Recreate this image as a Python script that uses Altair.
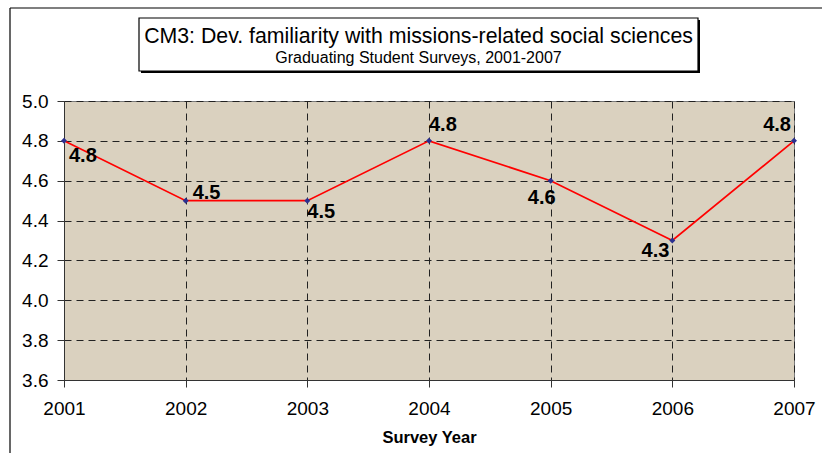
import altair as alt
import pandas as pd

# Survey results by graduating year
years = [2001, 2002, 2003, 2004, 2005, 2006, 2007]
scores = [4.8, 4.5, 4.5, 4.8, 4.6, 4.3, 4.8]
y_ticks = [3.6, 3.8, 4.0, 4.2, 4.4, 4.6, 4.8, 5.0]

title_text = "CM3: Dev. familiarity with missions-related social sciences"
subtitle_text = "Graduating Student Surveys, 2001-2007"
x_title = "Survey Year"

FONT = "Liberation Sans"

df = pd.DataFrame({"year": years, "score": scores})
one = alt.Data(values=[{}])

x_enc = alt.X(
    "year:Q",
    scale=alt.Scale(domain=[2001, 2007], nice=False, zero=False),
    axis=alt.Axis(
        values=years, format="d", title=x_title, titleFontWeight="bold",
        titleFontSize=16.5, titlePadding=11, labelFontSize=19, labelPadding=12,
        labelOverlap=False, labelFlush=False, tickSize=7, grid=True,
        gridDash=[7, 5], gridColor="#222222", domainColor="#333333",
        tickColor="#333333", labelColor="#000000", titleColor="#000000",
        labelFont=FONT, titleFont=FONT,
    ),
)
y_enc = alt.Y(
    "score:Q",
    scale=alt.Scale(domain=[3.6, 5.0], nice=False, zero=False),
    axis=alt.Axis(
        values=y_ticks, format=".1f", title=None, labelFontSize=19,
        labelPadding=9, labelOverlap=False, labelFlush=False, tickSize=7,
        grid=True, gridDash=[7, 5], gridColor="#222222",
        domainColor="#333333", tickColor="#333333", labelColor="#000000",
        labelFont=FONT,
    ),
)

base = alt.Chart(df)

line = base.mark_line(color="#ff0000", strokeWidth=1.7).encode(x=x_enc, y=y_enc)
points = base.mark_point(
    shape="diamond", filled=True, size=36, color="#2b2f8f", opacity=1
).encode(x=x_enc, y=y_enc)

# value labels, each placed beside its point
label_style = {
    2001: dict(align="left", dx=5, dy=15),
    2002: dict(align="left", dx=7, dy=-8),
    2003: dict(align="left", dx=0, dy=11),
    2004: dict(align="left", dx=0, dy=-16),
    2005: dict(align="center", dx=-9, dy=17),
    2006: dict(align="right", dx=-3, dy=10),
    2007: dict(align="right", dx=-3, dy=-16),
}
labels = [
    base.transform_filter(alt.datum.year == yr)
    .mark_text(fontSize=20, fontWeight="bold", font=FONT, color="#000000",
               baseline="middle", **st)
    .encode(x=x_enc, y=y_enc, text=alt.Text("score:Q", format=".1f"))
    for yr, st in label_style.items()
]

# outer frame (top and left edges)
frame_top = alt.Chart(one).mark_rule(color="#000000", strokeWidth=1.2).encode(
    x=alt.value(-54), x2=alt.value(760), y=alt.value(-93)
)
frame_left = alt.Chart(one).mark_rule(color="#000000", strokeWidth=1.2).encode(
    x=alt.value(-54), y=alt.value(-93), y2=alt.value(360)
)

# boxed title with a drop shadow
box_shadow = alt.Chart(one).mark_rect(color="#000000").encode(
    x=alt.value(77), x2=alt.value(636), y=alt.value(-81), y2=alt.value(-28)
)
box = alt.Chart(one).mark_rect(fill="#ffffff", stroke="#000000", strokeWidth=1.2).encode(
    x=alt.value(75), x2=alt.value(634), y=alt.value(-83), y2=alt.value(-30)
)
title_mark = alt.Chart(one).mark_text(
    text=title_text, fontSize=21.3, font=FONT, color="#000000",
    align="center", baseline="alphabetic",
).encode(x=alt.value(354.5), y=alt.value(-58))
subtitle_mark = alt.Chart(one).mark_text(
    text=subtitle_text, fontSize=16, font=FONT, color="#000000",
    align="center", baseline="alphabetic",
).encode(x=alt.value(354.5), y=alt.value(-38))

chart = (
    alt.layer(
        line, points, *labels,
        frame_top, frame_left, box_shadow, box, title_mark, subtitle_mark,
    )
    .properties(
        width=730, height=279,
        autosize=alt.AutoSizeParams(type="none"),
        padding={"left": 64, "top": 101, "right": 28, "bottom": 73},
        background="#ffffff",
    )
    .configure_view(fill="#dad1bf", stroke="#7a7a7a", strokeWidth=1)
)

chart.save("out.html", embed_options={"renderer": "svg", "actions": False})
